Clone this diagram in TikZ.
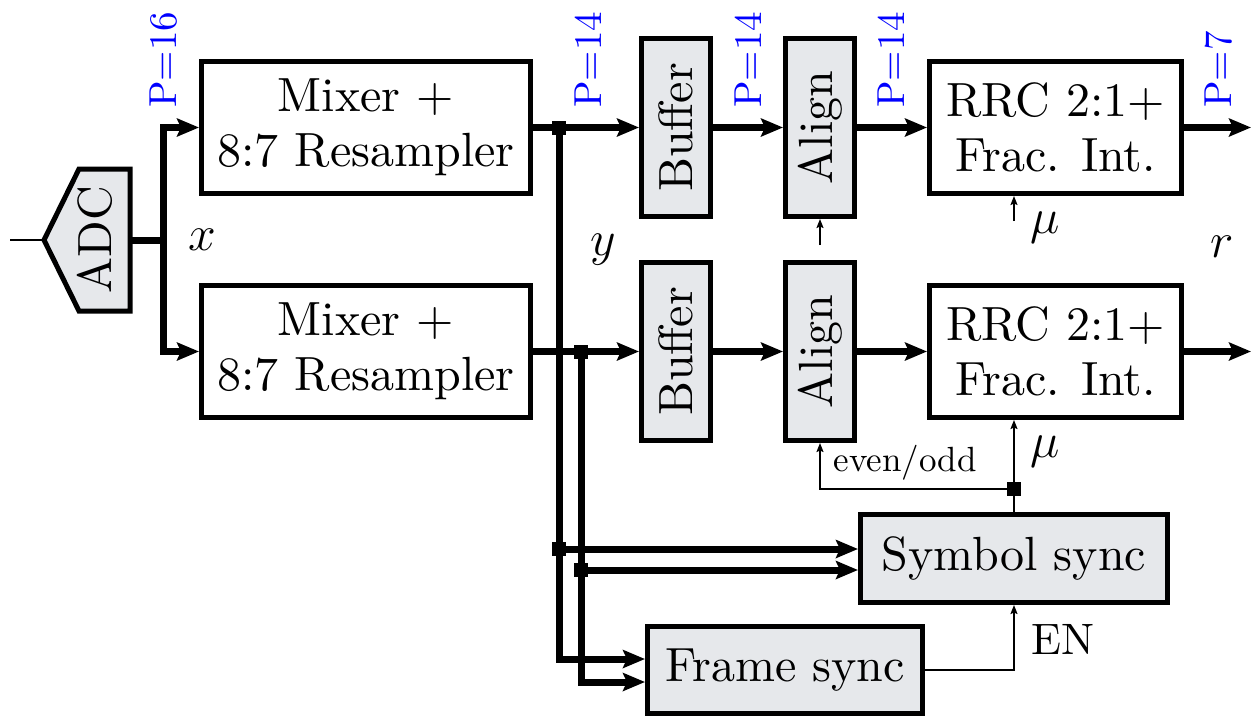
\documentclass[tikz,border=0pt]{standalone}
\usepackage{graphicx}
\usepackage{fontspec}
\setmainfont{lmroman10-regular.otf}
\usetikzlibrary{arrows.meta}
\definecolor{boxgray}{RGB}{230,232,235}
\definecolor{pblue}{RGB}{0,0,255}
\tikzset{
  box/.style={draw, line width=2.5pt, fill=white, inner sep=0pt, align=center, font=\fontsize{24}{27.5}\selectfont},
  graybox/.style={box, fill=boxgray},
  busline/.style={line width=3.5pt},
  bus/.style={busline, -{Stealth[length=11pt,width=9pt,inset=2pt]}},
  thinline/.style={line width=0.8pt},
  thinarrow/.style={thinline, -{Stealth[length=4.5pt,width=3.5pt,inset=0.8pt]}},
  junc/.style={fill=black, draw=none, minimum size=7pt, inner sep=0pt},
  plabel/.style={rotate=90, anchor=west, inner sep=0pt, text=pblue, font=\fontsize{19.5}{23}\selectfont},
  mlabel/.style={inner sep=0pt, font=\fontsize{24}{28}\selectfont},
  slabel/.style={inner sep=0pt, font=\fontsize{17.5}{21}\selectfont},
}
\begin{document}
\begin{tikzpicture}[x=0.5pt,y=-0.5pt]
\useasboundingbox (0,0) rectangle (1253,718);

% ADC
\draw[line width=2.5pt, fill=boxgray] (44,240) -- (79,169) -- (130,169) -- (130,311) -- (79,311) -- cycle;
\node[mlabel, rotate=90] (adc) at (95,240) {ADC};
\coordinate (adcT) at (43,240);
\coordinate (adcR) at (131,240);
\coordinate (in) at (10,240);
\coordinate (adcJ) at (163,240);

% main boxes
\node[box, minimum width=164.5pt, minimum height=66pt] (m1) at (366,127.5) {Mixer +\\8:7 Resampler};
\node[box, minimum width=164.5pt, minimum height=66pt] (m2) at (366,351.5) {Mixer +\\8:7 Resampler};
\node[graybox, minimum width=34.5pt, minimum height=89pt] (b1) at (676,127.5) {\rotatebox{90}{Buffer}};
\node[graybox, minimum width=34.5pt, minimum height=89pt] (b2) at (676,351.5) {\rotatebox{90}{Buffer}};
\node[graybox, minimum width=34.5pt, minimum height=89pt] (a1) at (820,127.5) {\rotatebox{90}{Align}};
\node[graybox, minimum width=34.5pt, minimum height=89pt] (a2) at (820,351.5) {\rotatebox{90}{Align}};
\node[box, minimum width=126pt, minimum height=66pt] (r1) at (1055.5,127.5) {RRC 2:1+\\Frac. Int.};
\node[box, minimum width=126pt, minimum height=66pt] (r2) at (1055.5,351.5) {RRC 2:1+\\Frac. Int.};
\node[graybox, minimum width=153.5pt, minimum height=44pt] (ss) at (1014,558.5) {Symbol sync};
\node[graybox, minimum width=137.5pt, minimum height=43.5pt] (fs) at (785,670) {Frame sync};

% coordinates
\coordinate (j1) at (559,127.5);
\coordinate (j2) at (581,351.5);
\coordinate (j3) at (559,549);
\coordinate (j4) at (581,570);
\coordinate (j5) at (1014,489);
\coordinate (mu1) at (1014,221);
\coordinate (o1) at (1251,127.5);
\coordinate (o2) at (1251,351.5);

% input
\draw[thinline] (in) -- (adcT);
\draw[bus] (adcR) -- (adcJ) |- (m1.west);
\draw[bus] (adcJ) |- (m2.west);

% row 1
\draw[bus] (m1.east) -- (b1.west);
\draw[bus] (b1.east) -- (a1.west);
\draw[bus] (a1.east) -- (r1.west);
\draw[bus] (r1.east) -- (o1);
% row 2
\draw[bus] (m2.east) -- (b2.west);
\draw[bus] (b2.east) -- (a2.west);
\draw[bus] (a2.east) -- (r2.west);
\draw[bus] (r2.east) -- (o2);

% trunks
\draw[bus] (j1) |- ([yshift=5.5pt]fs.west);
\draw[bus] (j2) |- ([yshift=-6pt]fs.west);
\draw[bus] (j3) -- (ss.west |- j3);
\draw[bus] (j4) -- (ss.west |- j4);

% thin control arrows
\draw[thinarrow, shorten <=7.5pt] (a2.north) -- (a1.south);
\draw[thinarrow] (mu1) -- (mu1 |- r1.south);
\draw[thinarrow] (ss.north) -- (j5 |- r2.south);
\draw[thinarrow] (j5) -| (a2.south);
\draw[thinarrow] (fs.east) -| (ss.south);

% junctions
\node[junc] at (j1) {};
\node[junc] at (j2) {};
\node[junc] at (j3) {};
\node[junc] at (j4) {};
\node[junc] at (j5) {};

% labels
\node[plabel] at (163.5,108) {P=16};
\node[plabel] at (588.5,108) {P=14};
\node[plabel] at (748.5,108) {P=14};
\node[plabel] at (891.5,108) {P=14};
\node[plabel] at (1218.5,108) {P=7};
\node[mlabel] at (202,240) {$x$};
\node[mlabel] at (603,250) {$y$};
\node[mlabel] at (1222,247) {$r$};
\node[mlabel] at (1045,228) {$\mu$};
\node[mlabel] at (1045,452) {$\mu$};
\node[slabel] at (905,463) {even/odd};
\node[inner sep=0pt, font=\fontsize{22}{26}\selectfont] at (1063,639) {EN};
\end{tikzpicture}
\end{document}
